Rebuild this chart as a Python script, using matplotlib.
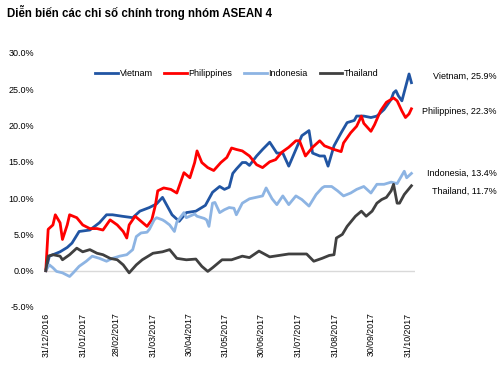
import matplotlib
matplotlib.use("Agg")
import matplotlib.pyplot as plt
import pandas as pd

plt.rcParams['font.family'] = ['Liberation Sans', 'DejaVu Sans']

# day offsets from 31/12/2016 and cumulative change (%)
vn_day = [0, 3, 12, 18, 22, 28, 37, 45, 51, 56, 64, 73, 79, 87, 93, 98, 101, 106, 112, 118,
          126, 134, 140, 146, 150, 154, 157, 160, 165, 168, 171, 177, 182, 188, 194, 199, 204,
          210, 215, 221, 224, 230, 234, 237, 242, 248, 253, 259, 261, 267, 273, 278, 284, 290,
          292, 294, 296, 299, 305, 307]
vn_val = [0, 2.0, 2.6, 3.2, 3.8, 5.4, 5.6, 6.6, 7.7, 7.7, 7.5, 7.3, 8.2, 8.7, 9.2, 10.1, 9.2, 7.7,
          6.8, 8.0, 8.2, 9.0, 10.8, 11.6, 11.2, 11.5, 13.4, 14.0, 14.9, 14.9, 14.5, 15.8, 16.7,
          17.7, 16.2, 16.2, 14.4, 16.7, 18.6, 19.3, 16.2, 15.8, 15.8, 14.4, 17.2, 19.0, 20.4,
          20.7, 21.3, 21.3, 21.1, 21.3, 22.2, 23.6, 24.5, 24.8, 24.1, 23.4, 27.1, 25.9]

ph_day = [0, 2, 6, 8, 12, 14, 18, 20, 26, 31, 37, 43, 48, 54, 60, 65, 68, 70, 75, 80, 85, 89,
          92, 94, 99, 105, 110, 116, 121, 125, 127, 131, 136, 141, 147, 152, 156, 160, 165, 171,
          177, 182, 188, 193, 198, 204, 210, 213, 218, 224, 230, 234, 242, 248, 250, 256, 261,
          265, 267, 273, 276, 281, 286, 292, 295, 299, 302, 305, 307]
ph_val = [0, 5.7, 6.3, 7.7, 6.6, 4.3, 6.3, 7.7, 7.3, 6.3, 5.8, 5.8, 5.6, 7.0, 6.3, 5.4, 4.5, 6.3,
          7.5, 6.8, 6.1, 7.0, 9.0, 11.0, 11.4, 11.2, 10.7, 13.5, 12.8, 14.9, 16.5, 14.9, 14.2,
          13.8, 14.9, 15.6, 16.9, 16.7, 16.5, 15.8, 14.6, 14.2, 15.0, 15.3, 16.3, 17.0, 17.9,
          17.9, 15.8, 17.0, 17.9, 17.2, 16.7, 16.4, 17.6, 19.0, 19.9, 21.3, 20.3, 19.2, 20.1,
          22.0, 23.2, 23.8, 23.4, 22.0, 21.1, 21.6, 22.3]

id_day = [0, 3, 6, 9, 14, 20, 23, 28, 34, 39, 45, 51, 56, 62, 68, 73, 76, 80, 85, 87, 91, 93,
          98, 100, 104, 108, 110, 116, 118, 125, 127, 133, 135, 137, 140, 142, 146, 150, 154,
          158, 160, 165, 171, 182, 185, 190, 194, 199, 204, 210, 215, 221, 227, 232, 234, 240,
          245, 250, 256, 261, 267, 273, 278, 284, 290, 295, 301, 303, 307]
id_val = [0, 0.8, 0.4, -0.1, -0.3, -0.8, -0.3, 0.6, 1.3, 2.0, 1.7, 1.3, 1.7, 2.0, 2.2, 2.9, 4.7,
          5.2, 5.3, 5.7, 7.0, 7.3, 7.0, 6.8, 6.3, 5.4, 6.7, 8.0, 7.3, 7.8, 7.5, 7.2, 7.0, 6.1,
          9.3, 9.4, 8.0, 8.4, 8.7, 8.6, 7.7, 9.3, 9.9, 10.3, 11.4, 9.9, 9.1, 10.3, 9.1, 10.3,
          9.8, 8.9, 10.5, 11.4, 11.6, 11.6, 11.0, 10.3, 10.7, 11.2, 11.6, 10.7, 11.9, 11.9,
          12.2, 12.0, 13.7, 12.8, 13.4]

th_day = [0, 2, 6, 12, 14, 20, 26, 31, 37, 43, 48, 54, 60, 65, 70, 76, 81, 90, 98, 104, 110,
          118, 126, 131, 136, 140, 148, 156, 165, 171, 179, 188, 196, 204, 213, 219, 225, 232,
          238, 242, 244, 249, 253, 260, 265, 269, 274, 278, 282, 286, 290, 292, 295, 297, 301,
          305, 307]
th_val = [0, 2.0, 2.2, 2.0, 1.5, 2.2, 3.1, 2.6, 2.9, 2.4, 2.2, 1.7, 1.5, 0.8, -0.3, 0.8, 1.5,
          2.4, 2.6, 2.9, 1.7, 1.5, 1.6, 0.6, -0.1, 0.4, 1.5, 1.5, 2.0, 1.8, 2.7, 1.9, 2.1, 2.3,
          2.3, 2.3, 1.3, 1.7, 2.1, 2.2, 4.5, 5.0, 6.1, 7.5, 8.2, 7.5, 8.2, 9.3, 9.8, 10.1, 11.0,
          11.9, 9.3, 9.3, 10.5, 11.3, 11.7]

tick_dates = ['31/12/2016', '31/01/2017', '28/02/2017', '31/03/2017', '30/04/2017',
              '31/05/2017', '30/06/2017', '31/07/2017', '31/08/2017', '30/09/2017', '31/10/2017']

start = pd.Timestamp('2016-12-31')


def to_dates(days):
    return start + pd.to_timedelta(days, unit='D')


fig = plt.figure(figsize=(5, 3.65), dpi=100)
ax = fig.add_axes([0.088, 0.159, 0.742, 0.696])

ax.axhline(0, color='#d9d9d9', lw=1.0, zorder=1)

series = [
    ('Vietnam', vn_day, vn_val, '#2155a3'),
    ('Philippines', ph_day, ph_val, '#ff0000'),
    ('Indonesia', id_day, id_val, '#8db4e3'),
    ('Thailand', th_day, th_val, '#404040'),
]
for name, d, v, c in series:
    ax.plot(to_dates(d), v, color=c, lw=2.0, label=name, zorder=2)

ax.set_ylim(-5, 30)
ax.set_yticks(range(-5, 31, 5))
ax.set_yticklabels(['%.1f%%' % t for t in range(-5, 31, 5)], fontsize=6.5)
ax.set_xlim(start - pd.Timedelta(days=1.5), start + pd.Timedelta(days=310))
ax.set_xticks(pd.to_datetime(tick_dates, format='%d/%m/%Y'))
ax.set_xticklabels(tick_dates, rotation=90, fontsize=6.3)
ax.tick_params(axis='x', length=0, pad=4)
ax.tick_params(axis='y', length=0, pad=7)
for s in ax.spines.values():
    s.set_visible(False)

ax.legend(loc='upper center', bbox_to_anchor=(0.52, 0.97), ncol=4, frameon=False,
          fontsize=6.5, handlelength=2.5, handletextpad=0.2, columnspacing=1.3)

labels = [('Vietnam, 25.9%', 76), ('Philippines, 22.3%', 111),
          ('Indonesia, 13.4%', 173), ('Thailand, 11.7%', 191)]
for txt, ypx in labels:
    fig.text(0.994, 1 - ypx / 365, txt, ha='right', va='center', fontsize=6.5)

fig.text(0.014, 1 - 12 / 365, 'Diễn biến các chỉ số chính trong nhóm ASEAN 4',
         ha='left', va='center', fontsize=8.3, fontweight='bold')

fig.savefig('out.png', dpi=100)
